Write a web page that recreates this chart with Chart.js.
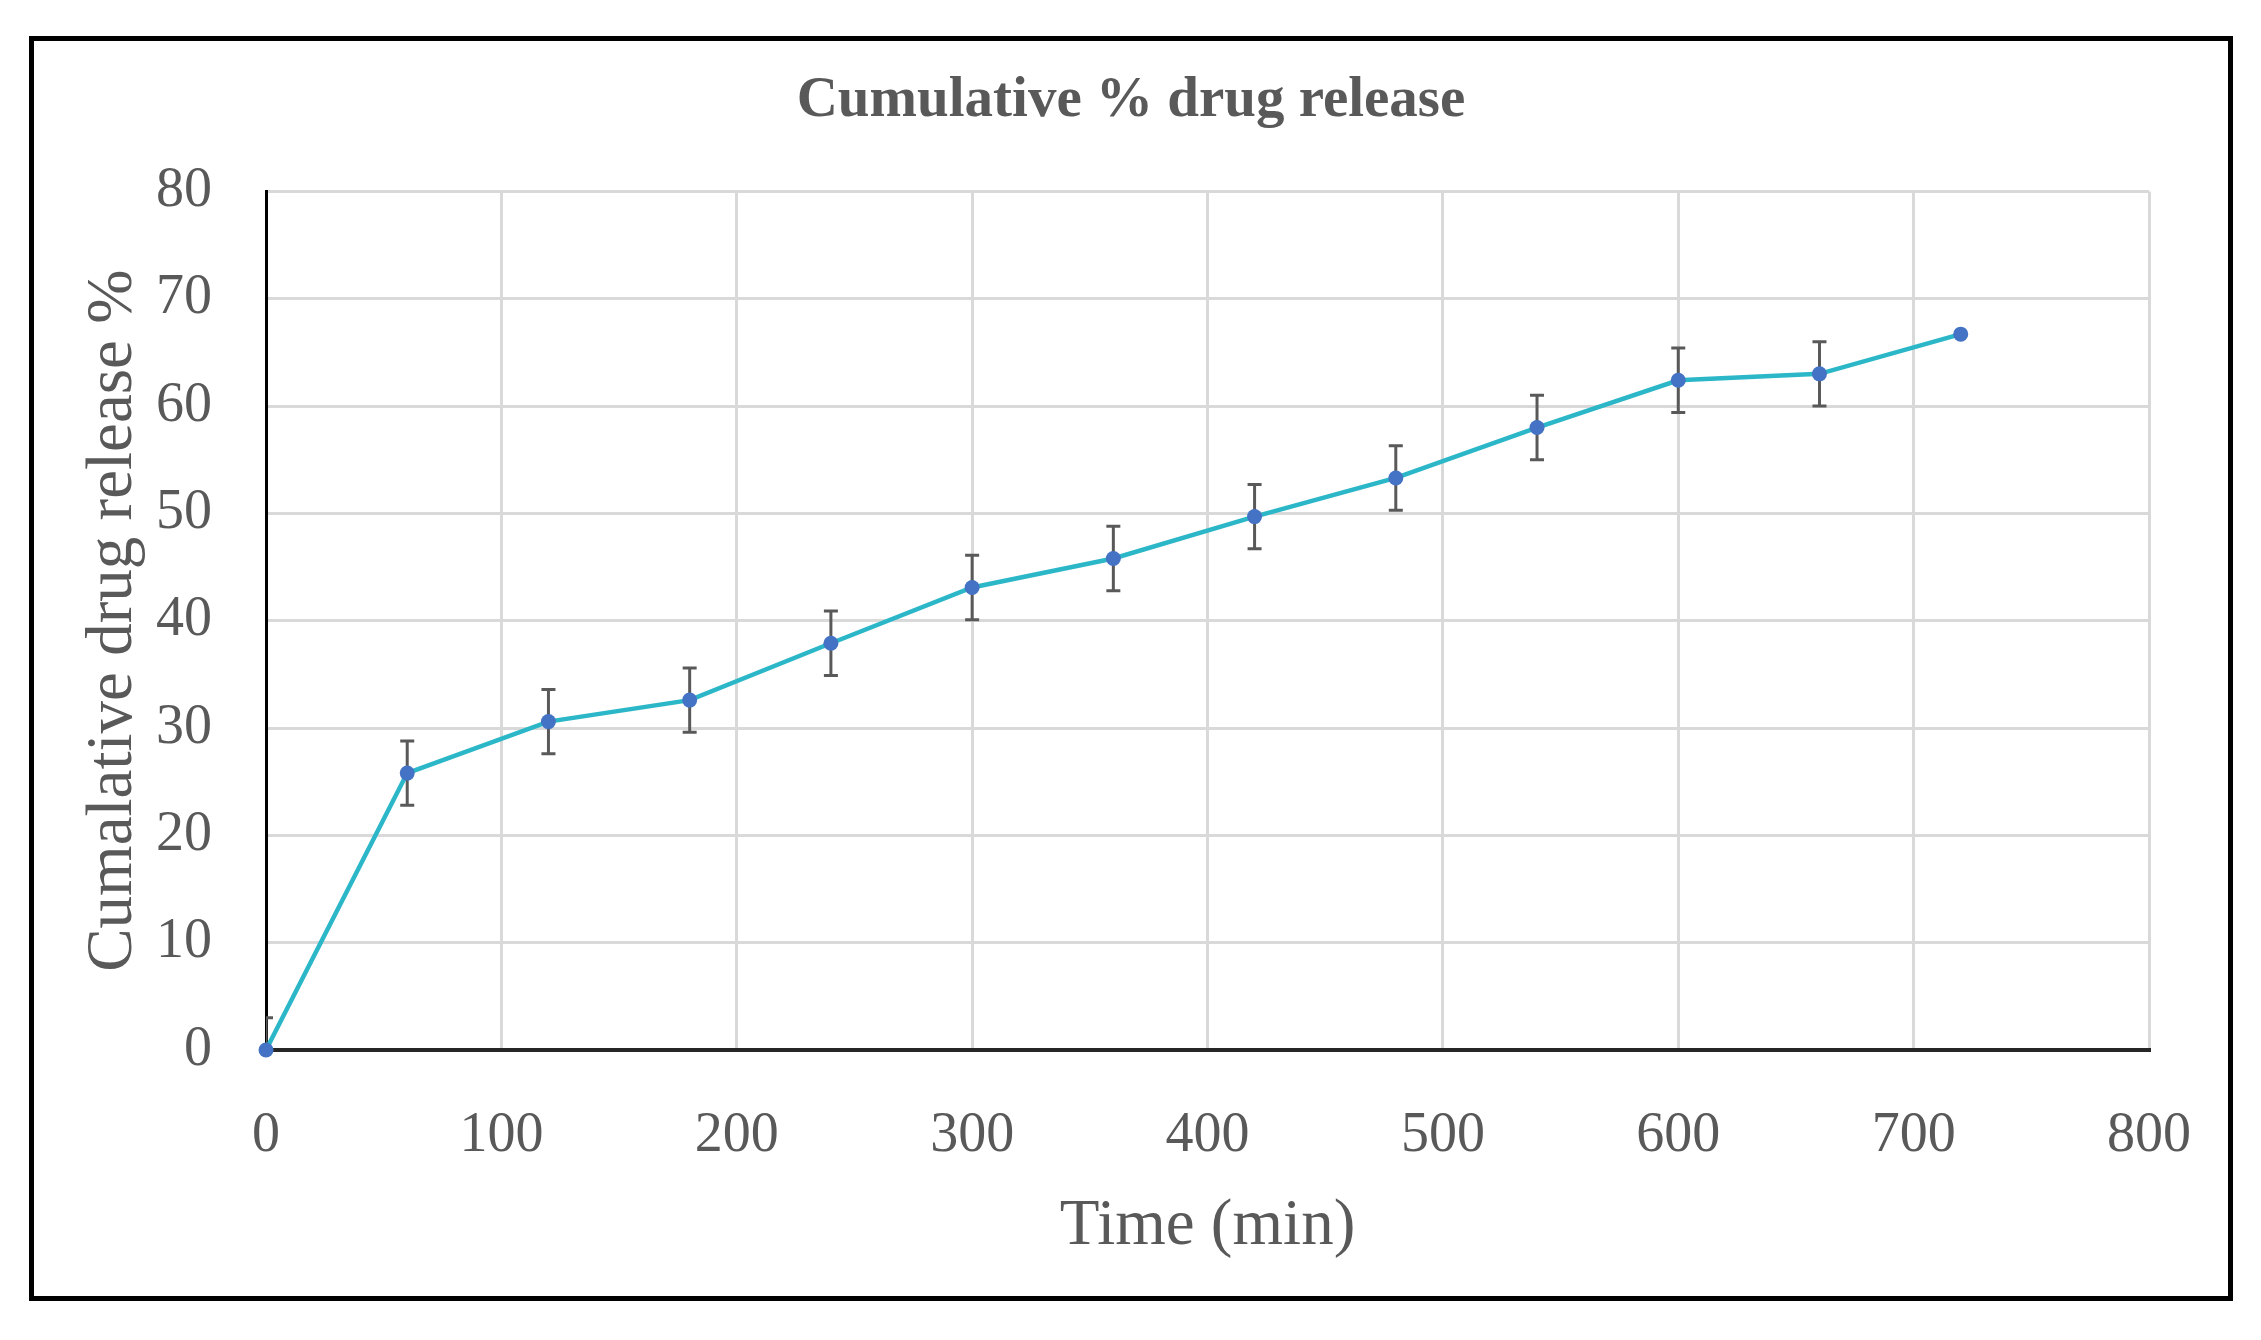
<!DOCTYPE html>
<html lang="en">
<head>
    <meta charset="UTF-8">
    <title>Cumulative % drug release</title>
    <script src="https://cdn.jsdelivr.net/npm/chart.js"></script>
    <style>
        body { margin: 0; background: #fff; }
        .frame {
            position: absolute;
            left: 29px; top: 36px;
            width: 2204px; height: 1265px;
            border: 5px solid #000;
            box-sizing: border-box;
        }
        canvas { display: block; }
    </style>
</head>
<body>
    <!-- Framed chart -->
    <div class="frame">
        <canvas id="releaseChart" width="2194" height="1255" style="width:2194px;height:1255px"></canvas>
    </div>

    <script>
        // Data
        const timeMin = [0, 60, 120, 180, 240, 300, 360, 420, 480, 540, 600, 660, 720];
        const releasePct = [0, 25.8, 30.6, 32.6, 37.9, 43.1, 45.8, 49.7, 53.3, 58.0, 62.4, 63.0, 66.7];
        const errorPct = [3, 3, 3, 3, 3, 3, 3, 3, 3, 3, 3, 3, 0];
        const xTicks = [0, 100, 200, 300, 400, 500, 600, 700, 800];
        const yTicks = [0, 10, 20, 30, 40, 50, 60, 70, 80];

        const grey = '#595959';
        const serif = "'Liberation Serif', 'DejaVu Serif', serif";

        // Vertical error bars drawn through the chart scales
        const errorBars = {
            id: 'errorBars',
            beforeDatasetsDraw(chart) {
                const ctx = chart.ctx;
                const x = chart.scales.x, y = chart.scales.y;
                const area = chart.chartArea;
                ctx.save();
                ctx.beginPath();
                ctx.rect(area.left, area.top - 20, area.right - area.left, area.bottom - area.top + 20);
                ctx.clip();
                ctx.strokeStyle = grey;
                ctx.lineWidth = 3;
                timeMin.forEach((t, i) => {
                    if (!errorPct[i]) return;
                    const px = x.getPixelForValue(t);
                    const top = y.getPixelForValue(releasePct[i] + errorPct[i]);
                    const bot = y.getPixelForValue(releasePct[i] - errorPct[i]);
                    ctx.beginPath();
                    ctx.moveTo(px, top); ctx.lineTo(px, bot);
                    ctx.moveTo(px - 7, top); ctx.lineTo(px + 7, top);
                    ctx.moveTo(px - 7, bot); ctx.lineTo(px + 7, bot);
                    ctx.stroke();
                });
                ctx.restore();
            }
        };

        new Chart(document.getElementById('releaseChart'), {
            type: 'line',
            data: {
                datasets: [{
                    label: 'Cumulative % drug release',
                    data: timeMin.map((t, i) => ({ x: t, y: releasePct[i] })),
                    borderColor: '#2BB7C8',
                    borderWidth: 4.5,
                    pointBackgroundColor: '#4472C4',
                    pointBorderColor: '#4472C4',
                    pointRadius: 7.5,
                    pointBorderWidth: 0,
                    tension: 0,
                    clip: false
                }]
            },
            options: {
                responsive: false,
                animation: false,
                layout: { padding: 0 },
                plugins: {
                    legend: { display: false },
                    tooltip: { enabled: false },
                    title: {
                        display: true,
                        text: 'Cumulative % drug release',
                        color: grey,
                        font: { family: serif, size: 57, weight: 'bold', lineHeight: 1.2 },
                        padding: { top: 26, bottom: 56 }
                    }
                },
                scales: {
                    x: {
                        type: 'linear',
                        min: 0,
                        max: 800,
                        afterBuildTicks: s => { s.ticks = xTicks.map(v => ({ value: v })); },
                        afterFit: s => { s.height = 246; s.paddingLeft = 0; s.paddingRight = 79; },
                        grid: { color: '#D9D9D9', lineWidth: 3, drawTicks: false },
                        border: { color: '#262626', width: 4 },
                        ticks: {
                            color: grey,
                            padding: 53,
                            font: { family: serif, size: 56, lineHeight: 1.2 }
                        },
                        title: {
                            display: true,
                            text: 'Time (min)',
                            color: grey,
                            font: { family: serif, size: 65, lineHeight: 1.2 },
                            padding: { top: 0, bottom: 30 }
                        }
                    },
                    y: {
                        type: 'linear',
                        min: 0,
                        max: 80,
                        afterBuildTicks: s => { s.ticks = yTicks.map(v => ({ value: v })); },
                        afterFit: s => { s.width = 232; },
                        grid: { color: '#D9D9D9', lineWidth: 3, drawTicks: false },
                        border: { color: '#000', width: 3 },
                        ticks: {
                            color: grey,
                            padding: 54,
                            font: { family: serif, size: 56, lineHeight: 1.2 }
                        },
                        title: {
                            display: true,
                            text: 'Cumalative drug release %',
                            color: grey,
                            font: { family: serif, size: 65, lineHeight: 1.2 },
                            padding: { top: 41, bottom: 0 }
                        }
                    }
                }
            },
            plugins: [errorBars]
        });
    </script>
</body>
</html>
